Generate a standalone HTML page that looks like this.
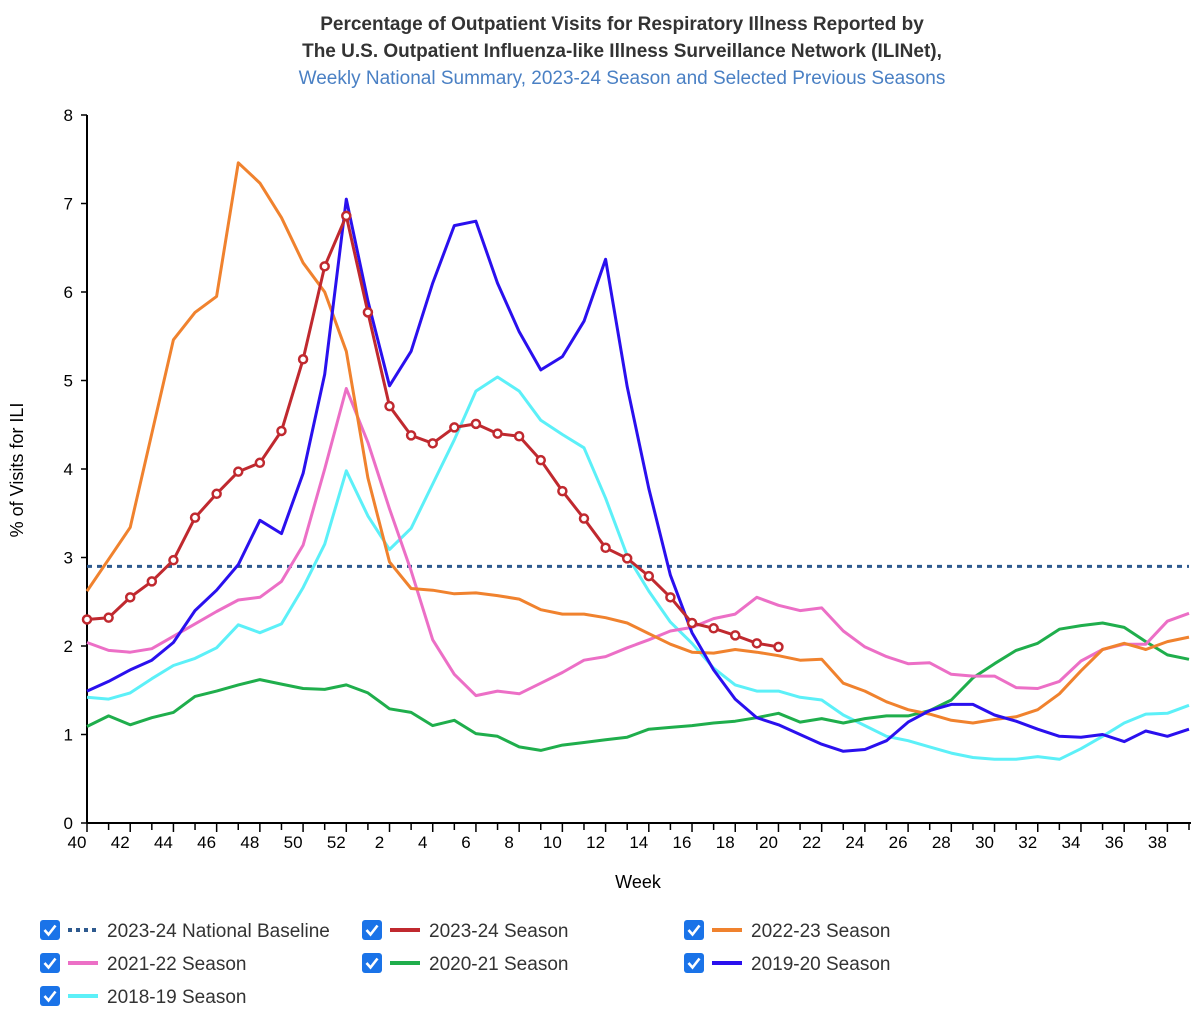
<!DOCTYPE html>
<html><head><meta charset="utf-8"><style>
body{margin:0;background:#fff;font-family:"Liberation Sans",Arial,sans-serif;}
#wrap{position:relative;width:1200px;height:1013px;overflow:hidden;}
</style></head><body>
<div id="wrap">
<svg id="chart" width="1200" height="1013" font-family="Liberation Sans, Arial, sans-serif">
<text x="622" y="30" text-anchor="middle" font-size="19" font-weight="bold" fill="#333">Percentage of Outpatient Visits for Respiratory Illness Reported by</text>
<text x="622" y="57" text-anchor="middle" font-size="19" font-weight="bold" fill="#333">The U.S. Outpatient Influenza-like Illness Surveillance Network (ILINet),</text>
<text x="622" y="84" text-anchor="middle" font-size="19" fill="#4a80c4">Weekly National Summary, 2023-24 Season and Selected Previous Seasons</text>
<text transform="translate(23,470) rotate(-90)" text-anchor="middle" font-size="18" fill="#000">% of Visits for ILI</text>
<text x="638" y="888" text-anchor="middle" font-size="18" fill="#000">Week</text>
<g id="axes"></g>
<g id="series"></g>
<g id="legend"></g>
</svg>
</div>
<script>
const weeks = [40,41,42,43,44,45,46,47,48,49,50,51,52,1,2,3,4,5,6,7,8,9,10,11,12,13,14,15,16,17,18,19,20,21,22,23,24,25,26,27,28,29,30,31,32,33,34,35,36,37,38,39];
const yTicks = [0,1,2,3,4,5,6,7,8];
const baseline = 2.9;
const s2324 = [2.3,2.32,2.55,2.73,2.97,3.45,3.72,3.97,4.07,4.43,5.24,6.29,6.86,5.77,4.71,4.38,4.29,4.47,4.51,4.4,4.37,4.1,3.75,3.44,3.11,2.99,2.79,2.55,2.26,2.2,2.12,2.03,1.99];
const s2223 = [2.62,2.98,3.34,4.4,5.46,5.77,5.95,7.46,7.23,6.84,6.33,6.0,5.33,3.9,2.95,2.65,2.63,2.59,2.6,2.57,2.53,2.41,2.36,2.36,2.32,2.26,2.14,2.02,1.93,1.92,1.96,1.93,1.89,1.84,1.85,1.58,1.49,1.37,1.28,1.23,1.16,1.13,1.17,1.2,1.28,1.46,1.72,1.96,2.03,1.96,2.05,2.1];
const s2122 = [2.04,1.95,1.93,1.97,2.11,2.25,2.39,2.52,2.55,2.73,3.14,4.0,4.91,4.3,3.55,2.85,2.07,1.68,1.44,1.49,1.46,1.58,1.7,1.84,1.88,1.98,2.07,2.17,2.21,2.31,2.36,2.55,2.46,2.4,2.43,2.17,1.99,1.88,1.8,1.81,1.68,1.66,1.66,1.53,1.52,1.6,1.83,1.96,2.02,2.02,2.28,2.37];
const s2021 = [1.09,1.21,1.11,1.19,1.25,1.43,1.49,1.56,1.62,1.57,1.52,1.51,1.56,1.47,1.29,1.25,1.1,1.16,1.01,0.98,0.86,0.82,0.88,0.91,0.94,0.97,1.06,1.08,1.1,1.13,1.15,1.19,1.24,1.14,1.18,1.13,1.18,1.21,1.21,1.27,1.39,1.64,1.8,1.95,2.03,2.19,2.23,2.26,2.21,2.05,1.9,1.85];
const s1920 = [1.49,1.6,1.73,1.84,2.04,2.4,2.63,2.92,3.42,3.27,3.95,5.07,7.05,5.9,4.94,5.33,6.1,6.75,6.8,6.1,5.55,5.12,5.27,5.67,6.37,4.93,3.78,2.8,2.15,1.73,1.4,1.19,1.11,1.0,0.89,0.81,0.83,0.93,1.14,1.27,1.34,1.34,1.22,1.15,1.06,0.98,0.97,1.0,0.92,1.04,0.98,1.06];
const s1819 = [1.42,1.4,1.47,1.63,1.78,1.86,1.98,2.24,2.15,2.25,2.66,3.15,3.98,3.47,3.09,3.33,3.83,4.33,4.88,5.04,4.88,4.55,4.39,4.24,3.67,3.02,2.62,2.27,2.03,1.75,1.56,1.49,1.49,1.42,1.39,1.22,1.1,0.98,0.93,0.86,0.79,0.74,0.72,0.72,0.75,0.72,0.84,0.98,1.13,1.23,1.24,1.33];

const NS='http://www.w3.org/2000/svg';
const X0=87, X1=1189, Y0=823, Y8=115;
function xs(i){return X0+i*(X1-X0)/(weeks.length-1);}
function ys(v){return Y0-(v/8)*(Y0-Y8);}
function mk(tag,attrs,parent){const e=document.createElementNS(NS,tag);for(const k in attrs)e.setAttribute(k,attrs[k]);parent.appendChild(e);return e;}
const axes=document.getElementById('axes');
let yl=mk('line',{x1:X0,y1:Y8,x2:X0,y2:Y0,stroke:'#000','stroke-width':2},axes);


let xl=mk('line',{x1:X0,y1:Y0,x2:1191,y2:Y0,stroke:'#000','stroke-width':2},axes);


yTicks.forEach(v=>{
  const y=ys(v);
  const t=mk('line',{x1:X0-6,y1:y,x2:X0,y2:y,stroke:'#000','stroke-width':1.5},axes);
  
  
  const l=mk('text',{x:X0-14,y:y+6,'text-anchor':'end','font-size':17,fill:'#000'},axes);
  l.textContent=v;
  
  
});
weeks.forEach((w,i)=>{
  const x=xs(i);
  const t=mk('line',{x1:x,y1:Y0,x2:x,y2:Y0+(i%2==0?9:7),stroke:'#000','stroke-width':1.5},axes);
  
  
  if(i%2==0){
    const l=mk('text',{x:x-10,y:Y0+25,'text-anchor':'middle','font-size':17,fill:'#000'},axes);
    l.textContent=w;
    
    
  }
});
const ser=document.getElementById('series');
const bl=mk('line',{x1:X0,y1:ys(baseline),x2:X1,y2:ys(baseline),stroke:'#2e5a8f','stroke-width':3,'stroke-dasharray':'5,5'},ser);


function line(arr,color,name){
  const d=arr.map((v,i)=>(i?'L':'M')+xs(i).toFixed(1)+','+ys(v).toFixed(1)).join('');
  const p=mk('path',{d:d,fill:'none',stroke:color,'stroke-width':3,'stroke-linejoin':'round'},ser);
  
  
  return p;
}
line(s1819,'#5cf0f8','series-2018-19');
line(s2021,'#1fae4c','series-2020-21');
line(s2122,'#ec6fc6','series-2021-22');
line(s2223,'#f0822e','series-2022-23');
line(s1920,'#2a10ee','series-2019-20');
line(s2324,'#c0292f','series-2023-24');
s2324.forEach((v,i)=>{
  const c=mk('circle',{cx:xs(i),cy:ys(v),r:4,fill:'#fff',stroke:'#c0292f','stroke-width':2.5},ser);
  
  
});
const legItems=[
  ['2023-24 National Baseline','#2e5a8f',true,40,930],
  ['2023-24 Season','#c0292f',false,362,930],
  ['2022-23 Season','#f0822e',false,684,930],
  ['2021-22 Season','#ec6fc6',false,40,963],
  ['2020-21 Season','#1fae4c',false,362,963],
  ['2019-20 Season','#2a10ee',false,684,963],
  ['2018-19 Season','#5cf0f8',false,40,996]
];
const leg=document.getElementById('legend');
legItems.forEach(it=>{
  const [label,color,dashed,x,y]=it;
  const g=mk('g',{},leg);
  
  
  const box=mk('rect',{x:x,y:y-10,width:20,height:20,rx:3,fill:'#1a73e8'},g);
  
  
  const ck=mk('path',{d:`M${x+4.5},${y} L${x+8.5},${y+4.5} L${x+15.5},${y-4.5}`,fill:'none',stroke:'#fff','stroke-width':2.6},g);
  
  
  const sw=mk('line',{x1:x+28,y1:y,x2:x+58,y2:y,stroke:color,'stroke-width':4},g);
  if(dashed)sw.setAttribute('stroke-dasharray','4,4');
  
  
  const t=mk('text',{x:x+67,y:y+7,'font-size':19,fill:'#333'},g);
  t.textContent=label;
  
  
});
</script>
</body></html>
